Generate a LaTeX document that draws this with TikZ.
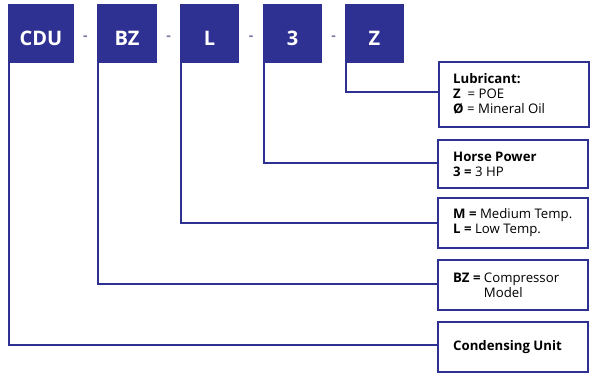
\documentclass[tikz,border=0pt]{standalone}
\usepackage{fontspec}
\setmainfont{Open Sans}
\definecolor{navy}{RGB}{46,49,146}
\definecolor{dashgray}{RGB}{120,122,160}
\begin{document}
\begin{tikzpicture}[x=1pt,y=-1pt,
  code/.style={fill=navy,draw=none,minimum height=59pt,inner sep=0pt,outer sep=0pt,anchor=north west},
  codetext/.style={text=white,font=\fontsize{20}{22}\selectfont\bfseries},
  desc/.style={draw=navy,line width=1.8pt,fill=white,minimum width=150pt,inner sep=0pt,outer sep=0pt,anchor=north west},
  desctext/.style={anchor=west,align=left,inner sep=0pt,font=\fontsize{13.2}{15}\selectfont},
  conn/.style={draw=navy,line width=2pt},
  sep/.style={text=dashgray,font=\fontsize{14}{16}\selectfont\bfseries,inner sep=0pt}]
\useasboundingbox (0,0) rectangle (591,376);
% code boxes
\node[code,minimum width=66pt] (cdu) at (8,4) {};
\node[code,minimum width=60pt] (bz) at (97,4) {};
\node[code,minimum width=59pt] (l) at (180,4) {};
\node[code,minimum width=59pt] (hp) at (263,4) {};
\node[code,minimum width=59pt] (z) at (345,4) {};
\node[codetext] (tcdu) at (41,38) {CDU};
\node[codetext] (tbz) at (127,38) {BZ};
\node[codetext] (tl) at (209.5,38) {L};
\node[codetext] (thp) at (292.5,38) {3};
\node[codetext] (tz) at (374.5,38) {Z};
% separators
\node[sep] (s1) at (85.5,38) {-};
\node[sep] (s2) at (168.5,38) {-};
\node[sep] (s3) at (251,38) {-};
\node[sep] (s4) at (333.5,38) {-};
% description boxes
\node[desc,minimum height=65pt] (dz) at (439,62) {};
\node[desc,minimum height=48pt] (dhp) at (438,140) {};
\node[desc,minimum height=50pt] (dl) at (438,198) {};
\node[desc,minimum height=50pt] (dbz) at (438,260) {};
\node[desc,minimum height=50pt] (dcdu) at (438,322) {};
\node[desctext] (tdz) at (453,94) {\textbf{Lubricant:}\\\textbf{Z}\ \ = POE\\\textbf{Ø} = Mineral Oil};
\node[desctext] (tdhp) at (453,164) {\textbf{Horse Power}\\\textbf{3 =} 3 HP};
\node[desctext] (tdl) at (453,223) {\textbf{M =} Medium Temp.\\\textbf{L =} Low Temp.};
\node[desctext] (tdbz) at (453,285) {\textbf{BZ =} Compressor\\\phantom{\textbf{BZ =} }Model};
\node[desctext] (tdcdu) at (453,347) {\textbf{Condensing Unit}};
% connectors
\coordinate (cz) at (346,92);
\coordinate (chp) at (264,163);
\coordinate (cl) at (181,223);
\coordinate (cbz) at (98,284);
\coordinate (ccdu) at (9,345);
\draw[conn] (346,63) -- (cz) -- (dz.west |- cz);
\draw[conn] (264,63) -- (chp) -- (dhp.west |- chp);
\draw[conn] (181,63) -- (cl) -- (dl.west |- cl);
\draw[conn] (98,63) -- (cbz) -- (dbz.west |- cbz);
\draw[conn] (9,63) -- (ccdu) -- (dcdu.west |- ccdu);
\end{tikzpicture}
\end{document}
